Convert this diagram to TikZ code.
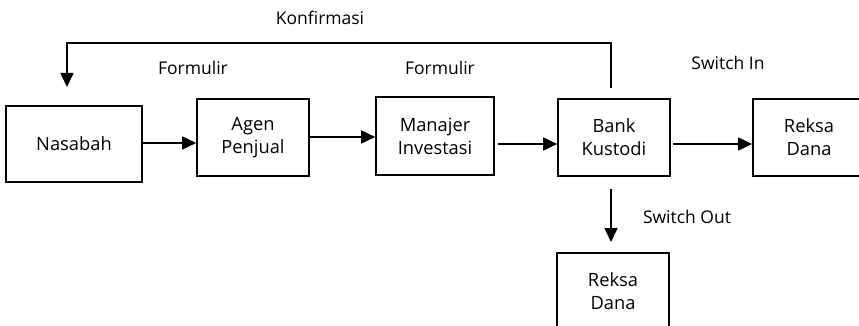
\documentclass[tikz,border=0pt]{standalone}
\usepackage{fontspec}
\setmainfont{Open Sans}
\usetikzlibrary{arrows.meta}
\begin{document}
\begin{tikzpicture}[x=1pt,y=-1pt,
  box/.style={draw,line width=1.6pt,align=center,inner sep=0pt,font=\fontsize{18.3}{23}\selectfont},
  lbl/.style={font=\fontsize{17.5}{20}\selectfont,inner sep=0pt},
  arr/.style={line width=1.6pt,-{Triangle[length=14pt,width=13pt]}}]
\useasboundingbox (0,0) rectangle (859,326);
\clip (0,0) rectangle (859,326);
\node[box,minimum width=136pt,minimum height=76pt] (nas) at (74,144) {Nasabah};
\node[box,minimum width=112pt,minimum height=77pt] (agen) at (253,137.5) {Agen\\Penjual};
\node[box,minimum width=118pt,minimum height=78pt] (man) at (435,136) {Manajer\\Investasi};
\node[box,minimum width=112pt,minimum height=77pt] (bank) at (614,137.5) {Bank\\Kustodi};
\node[box,minimum width=112pt,minimum height=77pt] (rd1) at (809,137.5) {Reksa\\Dana};
\node[box,minimum width=112pt,minimum height=77pt] (rd2) at (613,291.5) {Reksa\\Dana};
\node[lbl] (konf) at (320,18) {Konfirmasi};
\node[lbl] (f1) at (193,68) {Formulir};
\node[lbl] (f2) at (440,68) {Formulir};
\node[lbl] (swin) at (728,63) {Switch In};
\node[lbl] (swout) at (687,217) {Switch Out};
\coordinate (k1) at (611,88);
\coordinate (k2) at (611,43);
\coordinate (k3) at (67,43);
\coordinate (k4) at (67,87);
\coordinate (d1) at (611,189);
\coordinate (d2) at (611,242);
\draw[arr] (nas.east |- 0,143) -- (agen.west |- 0,143);
\draw[arr] (agen.east |- 0,137) -- (man.west |- 0,137);
\draw[arr] ([xshift=3pt]man.east |- 0,144) -- (bank.west |- 0,144);
\draw[arr] ([xshift=2pt]bank.east |- 0,144) -- (rd1.west |- 0,144);
\draw[arr] (k1) -- (k2) -- (k3) -- (k4);
\draw[arr] (d1) -- (d2);
\end{tikzpicture}
\end{document}
